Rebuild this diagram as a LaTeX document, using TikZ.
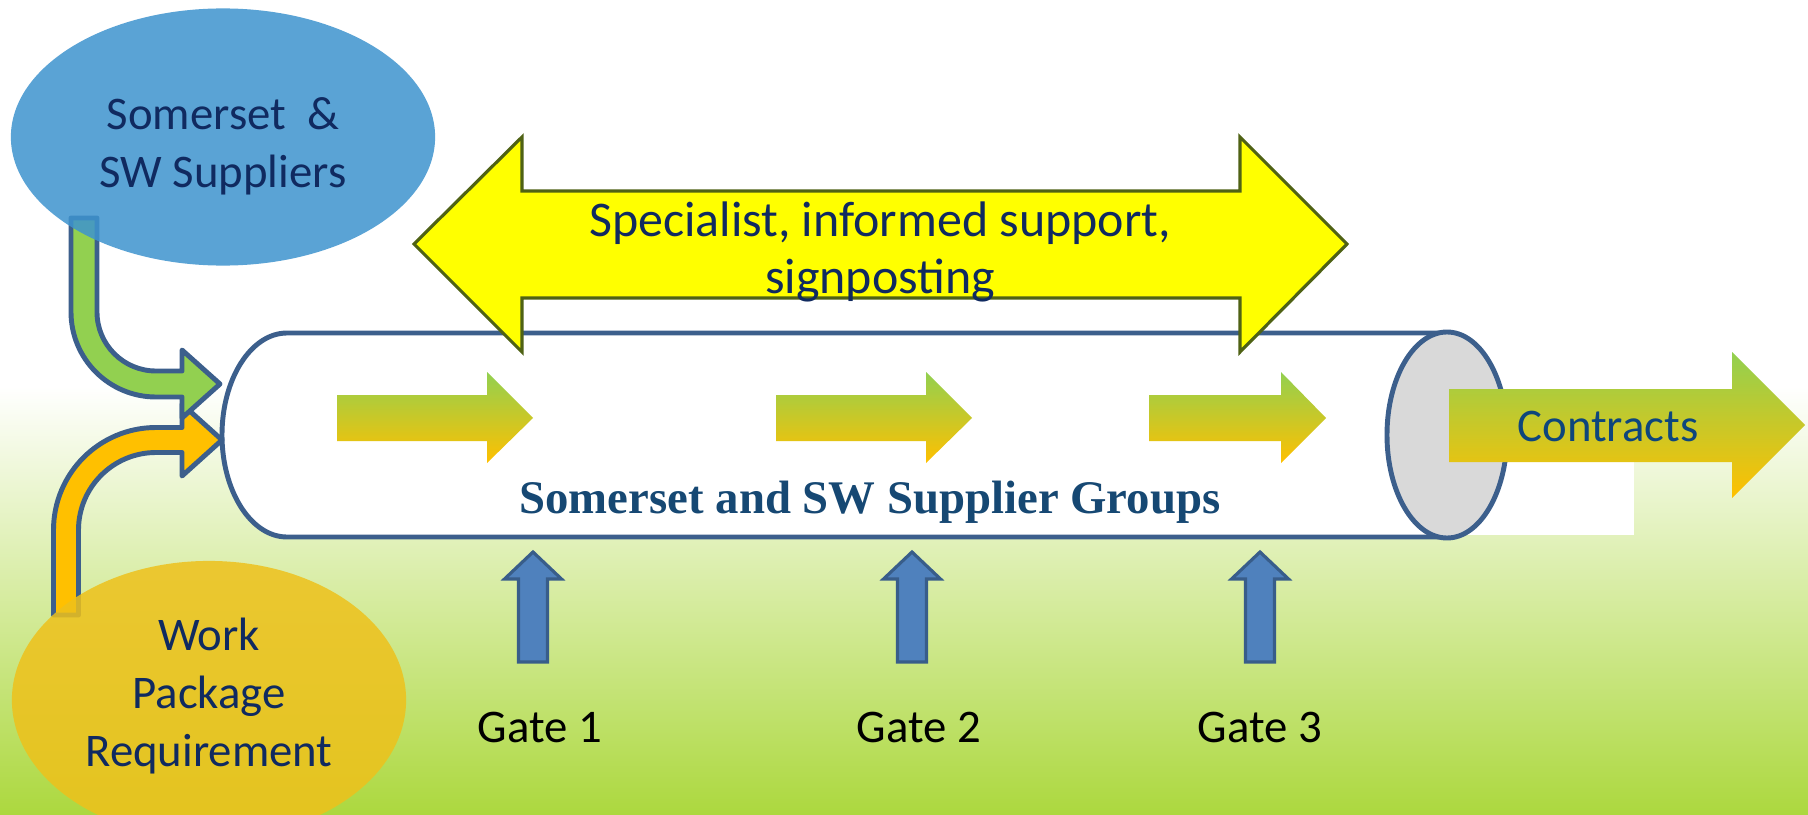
\documentclass[tikz,border=0pt]{standalone}
\usepackage{fontspec}
\setmainfont{Carlito}
\newfontfamily\groupfont{Liberation Serif}
\usepackage{xcolor}
\usepackage{tikz}
\usetikzlibrary{positioning,shapes.geometric}

\definecolor{lineblue}{RGB}{60,95,140}
\definecolor{supblue}{RGB}{62,147,206}
\definecolor{wpyellow}{RGB}{238,193,27}
\definecolor{arrgreen}{RGB}{146,208,80}
\definecolor{arrorange}{RGB}{255,192,0}
\definecolor{gatefill}{RGB}{79,129,189}
\definecolor{gatedraw}{RGB}{56,93,138}
\definecolor{olive}{RGB}{79,98,20}
\definecolor{signyellow}{RGB}{255,255,0}
\definecolor{bggreen}{RGB}{172,216,62}
\definecolor{cylgrey}{RGB}{217,217,217}
\definecolor{navy}{RGB}{16,42,96}
\definecolor{contractblue}{RGB}{14,70,124}
\definecolor{groupblue}{RGB}{22,72,115}

\begin{document}
\begin{tikzpicture}
	[x=0.01cm, y=-0.01cm,
	every node/.style={font=\fontsize{13.3}{16.5}\selectfont, inner sep=0pt},
	blob/.style={ellipse, fill opacity=0.85},
	blobtext/.style={align=center, text=navy},
	fade/.style={top color=arrgreen, bottom color=arrorange, draw=none},
	bentarrow/.style={draw=lineblue, line width=1.4pt, line join=round},
	gatearrow/.style={fill=gatefill, draw=gatedraw, line width=0.9pt},
	]
	\useasboundingbox (0,0) rectangle (1808,815);
	% background
	\fill[white] (0,0) rectangle (1808,815);
	\shade[top color=white, bottom color=bggreen] (0,386) rectangle (1808,815);
	\fill[white] (1300,300) rectangle (1634,535);
	
	% pipeline
	\filldraw[fill=white, draw=lineblue, line width=1.4pt]
		(287,333) -- (1447,333) -- (1447,537) -- (287,537)
		arc[start angle=90, end angle=270, x radius=65, y radius=102] -- cycle;
	\filldraw[fill=cylgrey, draw=lineblue, line width=1.4pt]
		(1447,435) ellipse[x radius=60, y radius=103];
	\foreach \sx/\hx/\tx in {337/487/533, 776/926/972, 1149/1281/1326}
		\shade[fade] (\sx,395) -- (\hx,395) -- (\hx,372) -- (\tx,418)
			-- (\hx,463) -- (\hx,441) -- (\sx,441) -- cycle;
	\node[anchor=base, text=groupblue] (groups) at (870,513)
		{\groupfont\bfseries Somerset and SW Supplier Groups};
	
	% support arrow
	\filldraw[fill=signyellow, draw=olive, line width=0.9pt]
		(414,244) -- (522,137) -- (522,191) -- (1240,191) -- (1240,137)
		-- (1347,244) -- (1240,352) -- (1240,298) -- (522,298) -- (522,352) -- cycle;
	\node[align=center, text=navy, font=\fontsize{14.2}{16.2}\selectfont] (support) at (880,252)
		{Specialist, informed support,\\signposting};
	
	% output
	\shade[fade] (1449,389) -- (1732,389) -- (1732,352) -- (1805,425)
		-- (1732,498) -- (1732,462) -- (1449,462) -- cycle;
	\node[anchor=base, text=contractblue] (contracts) at (1608,441) {Contracts};
	
	% inputs
	\filldraw[bentarrow, fill=arrorange] (53.5,615) -- (53.5,530)
		arc[start angle=180, end angle=270, radius=102.5] -- (182,427.5)
		-- (182,404) -- (222,440) -- (182,476) -- (182,452.5) -- (156,452.5)
		arc[start angle=270, end angle=180, radius=77.5] -- (78.5,615) -- cycle;
	\filldraw[bentarrow, fill=arrgreen] (71,218) -- (71,312)
		arc[start angle=180, end angle=90, radius=85] -- (182,397)
		-- (182,418) -- (220,384) -- (182,350) -- (182,371) -- (156,371)
		arc[start angle=90, end angle=180, radius=59] -- (97,218) -- cycle;
	\node[blob, fill=supblue, minimum width=4.24cm, minimum height=2.57cm]
		(suppliers) at (223,137) {};
	\node[blobtext] (supplierstext) at (223,146) {Somerset\ \ \&\\SW Suppliers};
	\node[blob, fill=wpyellow, minimum width=3.94cm, minimum height=2.78cm]
		(package) at (209,700) {};
	\node[blobtext] (packagetext) at (209,696) {Work\\Package\\Requirement};
	
	% gates
	\foreach \gx/\tx/\n in {533/540/1, 912/919/2, 1260/1260/3}{
		\filldraw[gatearrow] (\gx,552) -- ({\gx+28.5},579) -- ({\gx+14.5},579)
			-- ({\gx+14.5},662) -- ({\gx-14.5},662) -- ({\gx-14.5},579)
			-- ({\gx-28.5},579) -- cycle;
		\node[anchor=base] (gate\n) at (\tx,742) {Gate \n};
	}
\end{tikzpicture}
\end{document}
